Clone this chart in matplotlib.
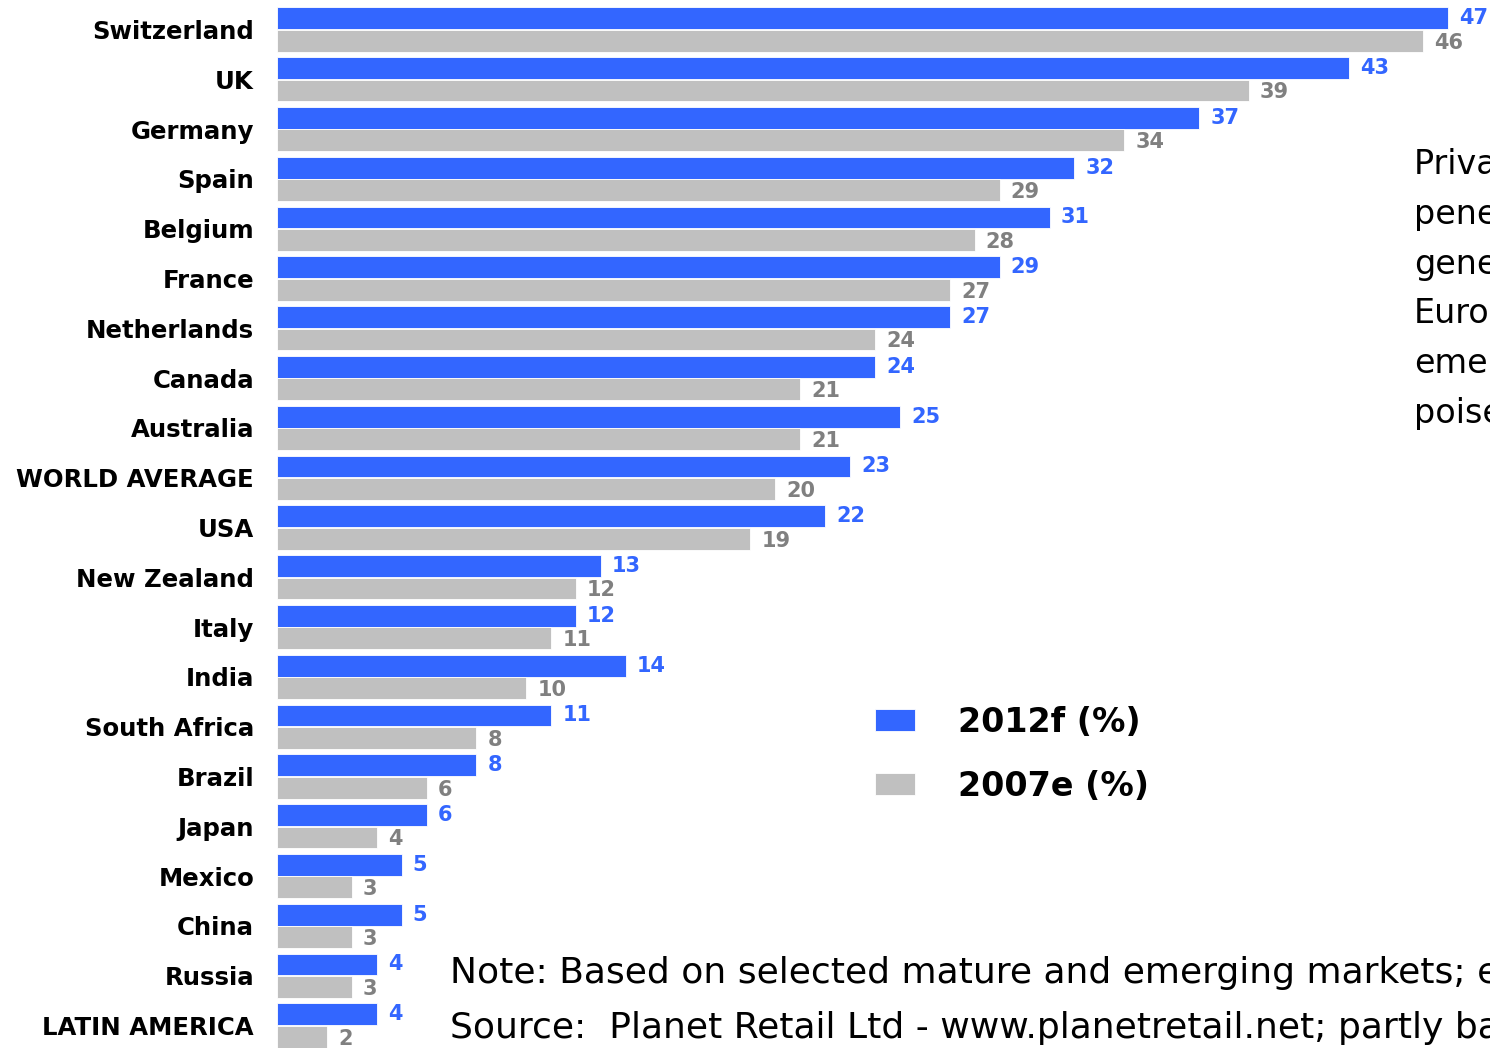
import numpy as np
import matplotlib
matplotlib.use("Agg")
import matplotlib.pyplot as plt

# Private label share by market, 2012 forecast vs 2007 estimate
countries = [
    "Switzerland", "UK", "Germany", "Spain", "Belgium", "France",
    "Netherlands", "Canada", "Australia", "WORLD AVERAGE", "USA",
    "New Zealand", "Italy", "India", "South Africa", "Brazil", "Japan",
    "Mexico", "China", "Russia", "LATIN AMERICA",
]
share_2012 = [47, 43, 37, 32, 31, 29, 27, 24, 25, 23, 22, 13, 12, 14, 11, 8, 6, 5, 5, 4, 4]
share_2007 = [46, 39, 34, 29, 28, 27, 24, 21, 21, 20, 19, 12, 11, 10, 8, 6, 4, 3, 3, 3, 2]
series_names = ["2012f (%)", "2007e (%)"]

side_text = ["Private label", "penetration", "generally", "Europe", "emerging", "poised"]
note_lines = [
    "Note: Based on selected mature and emerging markets; estimates",
    "Source:  Planet Retail Ltd - www.planetretail.net; partly based on",
]

blue = "#3366FF"
grey = "#C0C0C0"
grey_text = "#808080"

W, H = 1490, 1048
fig = plt.figure(figsize=(W / 100, H / 100), dpi=100)

# Axes spans from bar origin to the right edge, full height
left = 277 / W
ax = fig.add_axes([left, 0, 1 - left, 1])
ax.set_xlim(0, (W - 277) / 24.92)
pitch = 49.8
ax.set_ylim((H - 29.5) / pitch, -29.5 / pitch)

y = np.arange(len(countries))
bh = 0.44
b1 = ax.barh(y - 0.225, share_2012, height=bh, color=blue, edgecolor="white",
             linewidth=0.6, label=series_names[0])
b2 = ax.barh(y + 0.225, share_2007, height=bh, color=grey, edgecolor="white",
             linewidth=0.6, label=series_names[1])

# Value labels at the bar ends
for rect, v in zip(b1, share_2012):
    ax.annotate(str(v), (v, rect.get_y() + rect.get_height() / 2),
                xytext=(8, 0), textcoords="offset points", va="center",
                ha="left", color=blue, fontsize=15, fontweight="bold",
                annotation_clip=False)
for rect, v in zip(b2, share_2007):
    ax.annotate(str(v), (v, rect.get_y() + rect.get_height() / 2 + 0.04),
                xytext=(8, 0), textcoords="offset points", va="center",
                ha="left", color=grey_text, fontsize=15, fontweight="bold",
                annotation_clip=False)

ax.set_yticks(y)
ax.set_yticklabels(countries, fontsize=17.6, fontweight="bold")
ax.tick_params(axis="y", length=0, pad=16.5)
ax.set_xticks([])
for s in ax.spines.values():
    s.set_visible(False)

leg = ax.legend(loc="upper left", bbox_to_anchor=(875 / W, 1 - 706 / H),
                bbox_transform=fig.transFigure, frameon=False,
                prop={"size": 24, "weight": "bold"}, handlelength=1.2,
                handleheight=0.63, handletextpad=1.3, labelspacing=0.92,
                borderpad=0, borderaxespad=0)

# Commentary on the right, running off the page
for k, line in enumerate(side_text):
    fig.text(1414 / W, 1 - (165 + 49.6 * k) / H, line, fontsize=24,
             va="center", ha="left", color="black")

for k, line in enumerate(note_lines):
    fig.text(450 / W, 1 - (973 + 55 * k) / H, line, fontsize=26,
             va="center", ha="left", color="black")

fig.savefig("out.png", dpi=100)
